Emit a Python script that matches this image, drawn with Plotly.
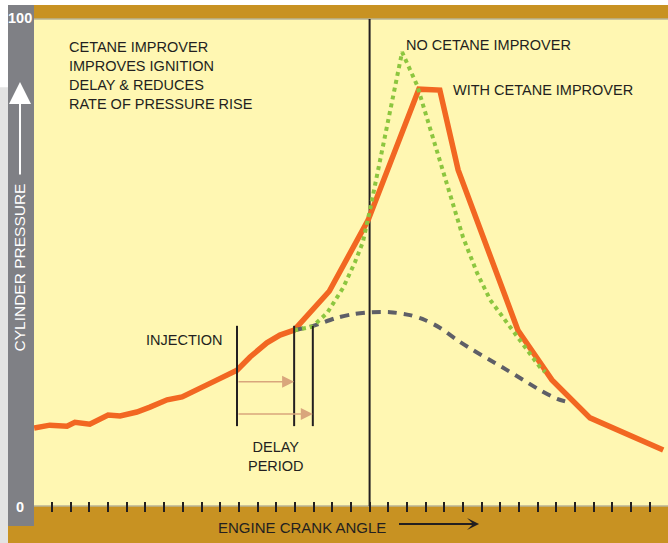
import plotly.graph_objects as go

# ---------------- data (crank angle in degrees, 0 = TDC; pressure in % of scale) ----------------
angle_with = [-89.8, -85.6, -81.0, -78.9, -74.9, -70.0, -66.8, -62.3, -58.8, -54.2, -50.2, -46.2,
              -40.8, -35.5, -32.0, -27.5, -24.0, -20.2, -10.8, -0.4, 13.2, 18.8, 23.7, 39.7,
              48.8, 59.0, 78.6]
pressure_with = [16.0, 16.6, 16.4, 17.2, 16.8, 18.7, 18.5, 19.3, 20.3, 21.8, 22.4, 23.8,
                 25.9, 27.9, 30.6, 33.5, 35.1, 36.1, 44.1, 58.7, 85.6, 85.4, 69.0, 36.1,
                 25.9, 18.1, 11.5]

angle_without = [-20.2, -15.4, -11.4, -7.1, -3.9, -1.8, 0.1, 8.7, 12.7, 16.8, 20.8, 25.0,
                 28.8, 32.3, 36.8, 40.3, 45.6, 47.0]
pressure_without = [36.1, 36.8, 39.6, 44.8, 50.1, 54.2, 60.8, 93.2, 86.4, 75.8, 65.5, 55.2,
                    47.8, 42.3, 37.6, 34.1, 28.5, 27.5]

angle_motor = [-20.2, -15.1, -9.0, -4.4, 0.6, 5.5, 10.8, 14.8, 18.8, 23.4, 27.7, 32.2,
               36.8, 41.1, 45.6, 50.2, 54.2]
pressure_motor = [36.1, 37.0, 38.6, 39.4, 39.8, 39.8, 39.2, 38.2, 36.6, 34.1, 32.0, 30.0,
                  27.9, 25.9, 23.8, 22.0, 21.1]

tick_angles = [-85, -80, -75, -70, -65, -60, -55, -50, -45, -40, -35, -30, -25, -20, -15, -10,
               -5, 0, 5, 10, 15, 20, 25, 30, 35, 40, 45, 50, 55, 60, 65, 70, 75]

injection_angle = -35.5
ignition_with_angle = -20.2
ignition_without_angle = -15.2
tdc_angle = 0
delay_marker_pressure = [16.4, 37.0]
arrow_pressures = [25.5, 18.9]

note_text = "CETANE IMPROVER<br>IMPROVES IGNITION<br>DELAY & REDUCES<br>RATE OF PRESSURE RISE"
label_without = "NO CETANE IMPROVER"
label_with = "WITH CETANE IMPROVER"
label_injection = "INJECTION"
label_delay = "DELAY<br>PERIOD"
x_title = "ENGINE CRANK ANGLE"
y_title = "CYLINDER PRESSURE"
y_labels = ["100", "0"]

# ---------------- styles ----------------
YELLOW = "#FFF7B2"
GOLD = "#C89222"
GRAYBAR = "#7F8085"
ORANGE = "#F26722"
GREEN = "#8CC63F"
DASHGRAY = "#5E5F67"
TAN = "#D9A67C"
INK = "#231F20"
FONT = "Liberation Sans, Arial, sans-serif"

fig = go.Figure()

fig.add_trace(go.Scatter(x=angle_with, y=pressure_with, mode="lines",
                         line=dict(color=ORANGE, width=5.5), hoverinfo="skip"))
fig.add_trace(go.Scatter(x=angle_motor, y=pressure_motor, mode="lines",
                         line=dict(color=DASHGRAY, width=4, dash="9px,7px", shape="spline",
                                   smoothing=0.8), hoverinfo="skip"))
fig.add_trace(go.Scatter(x=angle_without, y=pressure_without, mode="lines",
                         line=dict(color=GREEN, width=4, dash="dot"), hoverinfo="skip"))

shapes = []
# left light strip
shapes.append(dict(type="rect", xref="paper", yref="paper", x0=-0.054, x1=-0.041,
                   y0=-0.076, y1=0.86, fillcolor="#E3E3E3", line_width=0, layer="below"))
# bottom gold band
shapes.append(dict(type="rect", xref="paper", yref="paper", x0=-0.041, x1=1.0,
                   y0=-0.077, y1=0.0, fillcolor=GOLD, line_width=0, layer="below"))
# top gold band
shapes.append(dict(type="rect", xref="paper", yref="paper", x0=0.0, x1=1.0,
                   y0=1.0, y1=1.0288, fillcolor=GOLD, line_width=0, layer="below"))
# left gray bar
shapes.append(dict(type="rect", xref="paper", yref="paper", x0=-0.041, x1=0.0,
                   y0=-0.041, y1=1.0288, fillcolor=GRAYBAR, line_width=0, layer="below"))
# thin edge lines between bands and plot
for yy in (0.0, 1.0):
    shapes.append(dict(type="line", xref="paper", yref="paper", x0=0, x1=1, y0=yy, y1=yy,
                       line=dict(color="#B9B395", width=1.5), layer="below"))
# TDC line
shapes.append(dict(type="line", xref="x", yref="y", x0=tdc_angle, x1=tdc_angle, y0=0, y1=100,
                   line=dict(color=INK, width=2), layer="below"))
# delay period markers
for a in (injection_angle, ignition_with_angle, ignition_without_angle):
    shapes.append(dict(type="line", xref="x", yref="y", x0=a, x1=a,
                       y0=delay_marker_pressure[0], y1=delay_marker_pressure[1],
                       line=dict(color=INK, width=2)))

annotations = []
txt = dict(family=FONT, size=14.5, color=INK)
annotations.append(dict(x=-80.9, y=88.4, xref="x", yref="y", text=note_text, showarrow=False,
                        xanchor="left", yanchor="middle", align="left", font=txt))
annotations.append(dict(x=9.3, y=94.6, xref="x", yref="y", text=label_without, showarrow=False,
                        xanchor="left", yanchor="middle", font=txt))
annotations.append(dict(x=21.7, y=85.4, xref="x", yref="y", text=label_with, showarrow=False,
                        xanchor="left", yanchor="middle", font=txt))
annotations.append(dict(x=-38.8, y=34.1, xref="x", yref="y", text=label_injection,
                        showarrow=False, xanchor="right", yanchor="middle", font=txt))
annotations.append(dict(x=-25.0, y=10.1, xref="x", yref="y", text=label_delay, showarrow=False,
                        xanchor="center", yanchor="middle", align="center", font=txt))
# delay arrows
for end_a, p in zip((ignition_with_angle, ignition_without_angle), arrow_pressures):
    annotations.append(dict(x=end_a, y=p, xref="x", yref="y", ax=injection_angle, ay=p,
                            axref="x", ayref="y", text="", showarrow=True, arrowhead=2,
                            arrowsize=1.6, arrowwidth=1.5, arrowcolor=TAN, standoff=0))
# x title and arrow
annotations.append(dict(x=0.4227, y=-0.0446, xref="paper", yref="paper", text=x_title,
                        showarrow=False, xanchor="center", yanchor="middle",
                        font=dict(family=FONT, size=15, color=INK)))
annotations.append(dict(x=0.7019, y=-0.037, xref="paper", yref="paper", ax=-81.5, ay=0,
                        text="", showarrow=True, arrowhead=3, arrowsize=1.0, arrowwidth=2,
                        arrowcolor=INK, standoff=0))
# y title and arrow
annotations.append(dict(x=-0.0221, y=0.4897, xref="paper", yref="paper", text=y_title,
                        textangle=-90, showarrow=False, xanchor="center", yanchor="middle",
                        font=dict(family=FONT, size=15.5, color="white")))
annotations.append(dict(x=-0.0221, y=0.8705, xref="paper", yref="paper", ax=0, ay=94,
                        text="", showarrow=True, arrowhead=2, arrowsize=2.2, arrowwidth=2,
                        arrowcolor="white", standoff=0))
# y end labels
for lab, yy in zip(y_labels, (1.002, -0.003)):
    annotations.append(dict(x=-0.0221, y=yy, xref="paper", yref="paper", text="<b>%s</b>" % lab,
                            showarrow=False, xanchor="center", yanchor="middle",
                            font=dict(family=FONT, size=14.5, color="white")))

fig.update_layout(
    width=668, height=543,
    margin=dict(l=34, r=0, t=19, b=37),
    paper_bgcolor="white",
    plot_bgcolor=YELLOW,
    showlegend=False,
    shapes=shapes,
    annotations=annotations,
    xaxis=dict(range=[-89.84, 79.88], showgrid=False, zeroline=False, showline=False,
               tickmode="array", tickvals=tick_angles, showticklabels=False,
               ticks="outside", ticklen=10, tickwidth=2, tickcolor=INK,
               anchor="free", position=0.0103, fixedrange=True),
    yaxis=dict(range=[0, 100], showgrid=False, zeroline=False, showline=False,
               showticklabels=False, ticks="", fixedrange=True),
)

fig.write_html("out.html", config={"displayModeBar": False},
               post_script="document.body.style.margin='0';document.body.style.overflow='hidden';")
